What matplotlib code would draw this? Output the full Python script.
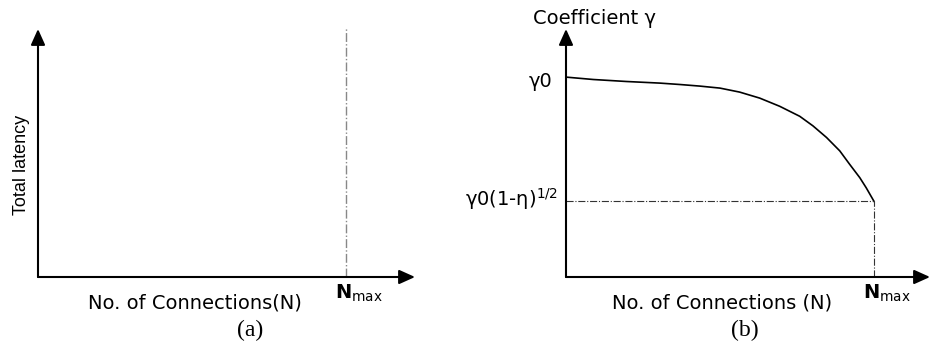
import matplotlib
matplotlib.use("Agg")
import matplotlib.pyplot as plt

# data (normalised: N / Nmax, gamma / gamma0)
n_max = 1.0
gamma0 = 1.0
n_frac = [0.0, 0.089, 0.197, 0.305, 0.37, 0.435, 0.500, 0.564, 0.629,
          0.694, 0.759, 0.802, 0.846, 0.889, 0.921, 0.954, 0.975, 1.0]
gamma_frac = [1.0, 0.988, 0.978, 0.970, 0.963, 0.955, 0.945, 0.925, 0.895,
              0.854, 0.804, 0.756, 0.698, 0.631, 0.564, 0.497, 0.446, 0.379]

xlabel_a = "No. of Connections(N)"
xlabel_b = "No. of Connections (N)"
ylabel_a = "Total latency"
ylabel_b = "Coefficient γ"
nmax_label = r"$\mathbf{N}_{\mathregular{max}}$"
g0_label = "γ0"
gend_label = r"γ0(1-η)$\mathregular{^{1/2}}$"

SANS = "DejaVu Sans"
SERIF = "Liberation Serif"


def _arrow_axes(ax):
    for s in ax.spines.values():
        s.set_visible(False)
    ax.set_xticks([])
    ax.set_yticks([])
    style = "-|>,head_length=0.8,head_width=0.36"
    for tip in [(1, 0), (0, 1)]:
        ax.annotate("", xy=tip, xytext=(0, 0), xycoords="axes fraction",
                    arrowprops=dict(arrowstyle=style, color="black", lw=1.5,
                                    mutation_scale=12, shrinkA=0, shrinkB=0))


def _nmax_text(ax):
    ax.annotate(nmax_label, xy=(n_max, 0), xytext=(13, -16),
                textcoords="offset pixels", ha="center", va="center",
                fontsize=14, family=SANS)


fig = plt.figure(figsize=(9.31, 3.48), dpi=100)

# (a)
ax1 = fig.add_axes([38 / 931, 71 / 348, 377 / 931, 248 / 348])
ax1.set_xlim(0, n_max / 0.817)
ax1.set_ylim(0, 1)
_arrow_axes(ax1)
ax1.plot([n_max, n_max], [0, 1.005], ls="-.", color="#888888", lw=1.0)
ax1.text(-0.045, 0.45, ylabel_a, rotation=90, ha="center", va="center",
         fontsize=13, family="Liberation Sans", transform=ax1.transAxes)
ax1.text(0.416, -0.105, xlabel_a, ha="center", va="center", fontsize=14,
         family=SANS, transform=ax1.transAxes)
_nmax_text(ax1)
ax1.text(0.562, -0.214, "(a)", ha="center", va="center", fontsize=17,
         family=SERIF, transform=ax1.transAxes)

# (b)
ax2 = fig.add_axes([566 / 931, 71 / 348, 364 / 931, 248 / 348])
ax2.set_xlim(0, n_max / 0.846)
ax2.set_ylim(0, gamma0 / 0.806)
_arrow_axes(ax2)
ax2.plot([x * n_max for x in n_frac], [g * gamma0 for g in gamma_frac],
         color="black", lw=1.2, solid_joinstyle="round")
g_end = gamma_frac[-1] * gamma0
ax2.plot([0, n_max], [g_end, g_end], ls="-.", color="#333333", lw=0.8)
ax2.plot([n_max, n_max], [0, g_end], ls="-.", color="#333333", lw=0.8)
ax2.text(0.078, 1.044, ylabel_b, ha="center", va="center", fontsize=14,
         family=SANS, transform=ax2.transAxes)
ax2.annotate(g0_label, xy=(0, gamma0), xytext=(-14, -4),
             textcoords="offset pixels", ha="right", va="center",
             fontsize=14, family=SANS)
ax2.annotate(gend_label, xy=(0, g_end), xytext=(-8, 2),
             textcoords="offset pixels", ha="right", va="center",
             fontsize=14, family=SANS)
ax2.text(0.429, -0.105, xlabel_b, ha="center", va="center", fontsize=14,
         family=SANS, transform=ax2.transAxes)
_nmax_text(ax2)
ax2.text(0.492, -0.214, "(b)", ha="center", va="center", fontsize=17,
         family=SERIF, transform=ax2.transAxes)

fig.savefig("out.png", dpi=100)
